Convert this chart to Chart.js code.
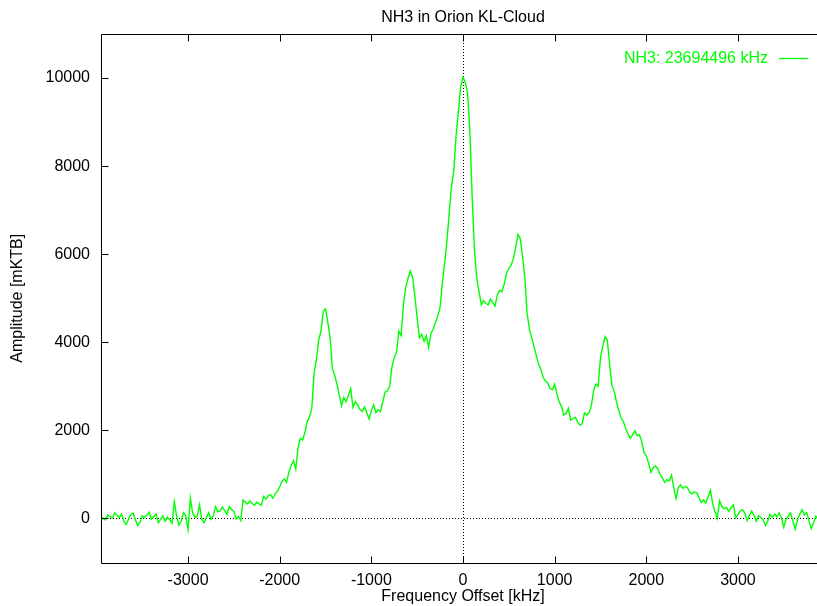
<!DOCTYPE html>
<html>
<head>
<meta charset="utf-8">
<script src="https://cdn.jsdelivr.net/npm/chart.js@4/dist/chart.umd.min.js"></script>
<style>
  html, body { margin: 0; padding: 0; background: #fff; overflow: hidden; }
  #wrap { width: 926px; height: 606px; position: relative; }
</style>
</head>
<body>
<div id="wrap"><canvas id="c" width="926" height="606"></canvas></div>
<script>
// ---- data ----
const chartTitle = "NH3 in Orion KL-Cloud";
const seriesLabel = "NH3: 23694496 kHz";
const xAxisTitle = "Frequency Offset [kHz]";
const yAxisTitle = "Amplitude [mKTB]";
const xTickValues = [-3000, -2000, -1000, 0, 1000, 2000, 3000];
const yTickValues = [0, 2000, 4000, 6000, 8000, 10000];
const freqStart = -3950;   // kHz, first sample
const freqStep = 25;       // kHz between samples

// amplitudes, -3950 .. -725 kHz
const ampLeft = [
  60,-10,-30,80,40,10,130,70,20,100,
  -60,-140,-20,90,120,-30,-160,-90,60,20,
  70,140,-20,40,100,-100,-20,60,-60,30,
  -30,-110,380,60,-150,-60,130,50,-250,460,
  120,30,40,310,-20,-100,20,130,-20,60,
  270,150,170,260,180,90,270,200,160,-10,
  40,-50,420,370,330,400,340,300,370,330,
  300,500,440,520,540,460,560,620,720,840,
  900,820,1050,1200,1310,1120,1600,1820,1780,1950,
  2200,2300,2500,3300,3600,4050,4250,4700,4760,4450,
  4100,3400,3250,3050,2800,2560,2750,2650,2800,2950,
  2520,2650,2580,2480,2430,2530,2400,2260,2450,2580,
  2400,2470,2430,2650,2870,2900,3000,3450,3650,3780
];
// amplitudes, -700 .. 1025 kHz
const ampCenter = [
  4250,4150,4850,5250,5450,5620,5480,5050,4550,4100,
  4180,4020,4150,3880,4200,4300,4450,4600,4800,5350,
  5800,6300,6950,7550,7900,8700,9250,9800,10020,9900,
  9650,8800,7300,6100,5450,5150,4850,4950,4880,4850,
  4980,4900,4820,5080,5180,5150,5320,5560,5680,5750,
  5900,6150,6450,6350,5950,5450,4650,4300,4100,3900,
  3700,3500,3380,3200,3120,3070,2950,2920,3050,2820
];
// amplitudes, 1050 .. 3950 kHz
const ampRight = [
  2650,2540,2350,2380,2500,2230,2270,2300,2200,2120,
  2150,2400,2350,2400,2550,2900,3050,3000,3650,3900,
  4130,4050,3500,3020,2880,2650,2450,2280,2200,2050,
  1920,1820,1900,1990,1880,1900,1750,1500,1420,1250,
  1050,1150,1190,1130,1000,920,820,880,850,980,
  700,450,700,760,680,730,700,590,560,600,
  580,470,360,420,350,500,640,330,150,0,
  400,270,220,250,160,240,310,20,80,170,
  200,120,-50,60,170,70,-60,60,20,-30,
  -160,-60,90,30,100,40,130,10,-200,-20,
  60,130,-60,-240,-30,100,200,80,130,-50,
  -230,-100,50,-20,80,-40,30
];

const amplitudes = ampLeft.concat(ampCenter, ampRight);
const points = amplitudes.map((v, i) => ({ x: freqStart + i * freqStep, y: v }));

const FONT = '"Liberation Sans", Arial, Helvetica, sans-serif';
const GREEN = '#00ff00';

const gnuFrame = {
  id: 'gnuFrame',
  beforeDatasetsDraw(chart) {
    const { ctx, chartArea: a, scales: { x, y } } = chart;
    ctx.save();
    ctx.strokeStyle = '#000';
    ctx.lineWidth = 1;
    ctx.setLineDash([1, 2]);
    const y0 = Math.round(y.getPixelForValue(0)) + 0.5;
    const x0 = Math.round(x.getPixelForValue(0)) + 0.5;
    ctx.beginPath();
    ctx.moveTo(a.left, y0); ctx.lineTo(a.right, y0);
    ctx.moveTo(x0, a.top); ctx.lineTo(x0, a.bottom);
    ctx.stroke();
    ctx.restore();
  },
  afterDatasetsDraw(chart) {
    const { ctx, chartArea: a, scales: { x, y } } = chart;
    ctx.save();
    ctx.strokeStyle = '#000';
    ctx.lineWidth = 1;
    ctx.setLineDash([]);
    const L = Math.round(a.left) + 0.5, R = Math.round(a.right) + 0.5;
    const T = Math.round(a.top) + 0.5, B = Math.round(a.bottom) + 0.5;
    ctx.beginPath();
    ctx.moveTo(L, T); ctx.lineTo(R, T); ctx.lineTo(R, B); ctx.lineTo(L, B); ctx.closePath();
    const tl = 7;
    x.ticks.forEach(t => {
      const px = Math.round(x.getPixelForValue(t.value)) + 0.5;
      ctx.moveTo(px, B); ctx.lineTo(px, B - tl);
      ctx.moveTo(px, T); ctx.lineTo(px, T + tl);
    });
    y.ticks.forEach(t => {
      const py = Math.round(y.getPixelForValue(t.value)) + 0.5;
      ctx.moveTo(L, py); ctx.lineTo(L + tl, py);
      ctx.moveTo(R, py); ctx.lineTo(R - tl, py);
    });
    ctx.stroke();

    // chart title, centred over the plot area (gnuplot style)
    ctx.font = '16px ' + FONT;
    ctx.fillStyle = '#000';
    ctx.textAlign = 'center';
    ctx.textBaseline = 'middle';
    ctx.fillText(chartTitle, (a.left + a.right) / 2, a.top - 16.5);

    // gnuplot-style key: text then line sample
    const ds = chart.data.datasets[0];
    const ky = Math.round(a.top + 24) + 0.5;
    ctx.fillStyle = ds.borderColor;
    ctx.textAlign = 'right';
    ctx.fillText(ds.label, a.right - 57, ky);
    ctx.strokeStyle = ds.borderColor;
    ctx.lineWidth = 1.3;
    ctx.beginPath();
    ctx.moveTo(a.right - 46, ky); ctx.lineTo(a.right - 17, ky);
    ctx.stroke();
    ctx.restore();
  }
};

new Chart(document.getElementById('c'), {
  type: 'line',
  data: {
    datasets: [{
      label: seriesLabel,
      data: points,
      borderColor: GREEN,
      backgroundColor: GREEN,
      borderWidth: 1.4,
      pointRadius: 0,
      tension: 0,
      fill: false
    }]
  },
  options: {
    responsive: false,
    animation: false,
    events: [],
    layout: { padding: { left: 0, right: 101, top: 34, bottom: 0 } },
    plugins: {
      legend: { display: false },
      tooltip: { enabled: false },
      title: { display: false }
    },
    scales: {
      x: {
        type: 'linear',
        min: -3950,
        max: 3950,
        grid: { display: false, drawTicks: false },
        border: { display: false },
        afterBuildTicks: s => { s.ticks = xTickValues.map(v => ({ value: v })); },
        afterFit: s => { s.height = 43.5; },
        ticks: {
          autoSkip: false, maxRotation: 0, padding: 8, color: '#000',
          font: { family: FONT, size: 16 },
          callback: v => String(v)
        },
        title: {
          display: true, text: xAxisTitle, color: '#000',
          font: { family: FONT, size: 16, lineHeight: 1.2 },
          padding: { top: 0, bottom: 0 }
        }
      },
      y: {
        type: 'linear',
        min: -1000,
        max: 11000,
        grid: { display: false, drawTicks: false },
        border: { display: false },
        afterBuildTicks: s => { s.ticks = yTickValues.map(v => ({ value: v })); },
        afterFit: s => { s.width = 101; },
        ticks: {
          autoSkip: false, padding: 11, color: '#000',
          font: { family: FONT, size: 16 },
          callback: v => String(v)
        },
        title: {
          display: true, text: yAxisTitle, color: '#000',
          font: { family: FONT, size: 16, lineHeight: 1.2 },
          padding: { top: 8, bottom: 0 }
        }
      }
    }
  },
  plugins: [gnuFrame]
});
</script>
</body>
</html>
